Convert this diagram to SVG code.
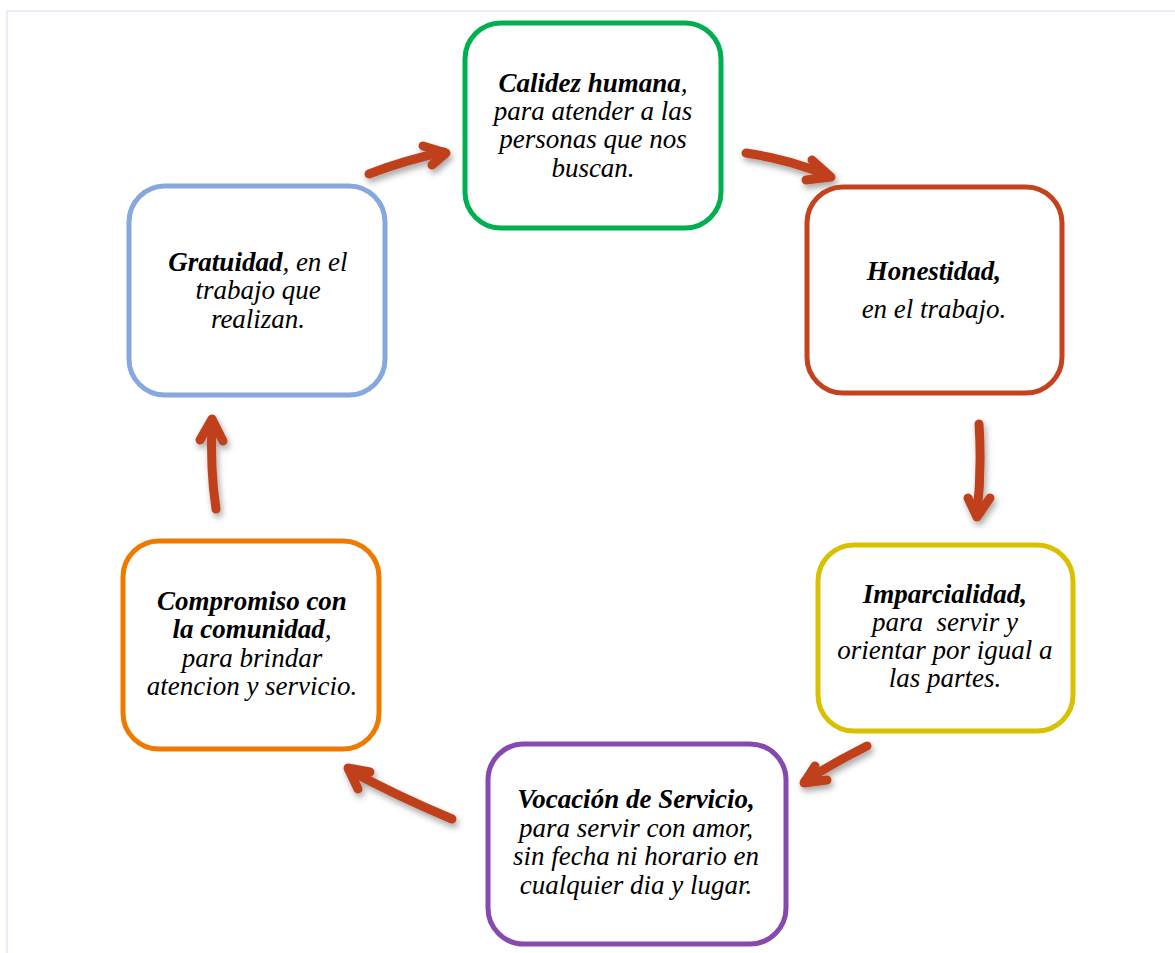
<svg xmlns="http://www.w3.org/2000/svg" width="1175" height="953" viewBox="0 0 1175 953">
<defs>
<style>
.box{fill:#fff;stroke-width:5}
.t{font-family:"Liberation Serif","Times New Roman",serif;font-size:27px;font-style:italic;fill:#000;text-anchor:middle}
.b{font-weight:bold}
.arr{fill:none;stroke:#c0401e;stroke-width:9;stroke-linecap:round;stroke-linejoin:round}
</style>
<filter id="sh" x="-30%" y="-30%" width="160%" height="160%">
<feDropShadow dx="2" dy="4" stdDeviation="3" flood-color="#000" flood-opacity="0.35"/>
</filter>
</defs>
<rect width="1175" height="953" fill="#fff"/>
<path d="M7 960 V11 H1180" fill="none" stroke="#e6edfb" stroke-width="2"/>

<g id="connectors" filter="url(#sh)">
<g id="a1"><path class="arr" d="M369 174 Q405 160 444 152"/><path class="arr" d="M423 146 L446 153 L432 165"/></g>
<g id="a2"><path class="arr" d="M746 153 Q792 160 829 176"/><path class="arr" d="M812 160 L831 177 L806 180"/></g>
<g id="a3"><path class="arr" d="M979 424 Q982 470 977 514"/><path class="arr" d="M968 498 L977 517 L990 498"/></g>
<g id="a4"><path class="arr" d="M867 746 Q835 762 805 781"/><path class="arr" d="M815 766 L804 783 L827 780"/></g>
<g id="a5"><path class="arr" d="M452 819 Q395 795 349 770"/><path class="arr" d="M370 772 L348 768 L358 789"/></g>
<g id="a6"><path class="arr" d="M216 509 Q210 470 212 421"/><path class="arr" d="M200 440 L212 419 L223 441"/></g>
</g>

<g id="calidez">
<rect class="box" x="465" y="23" width="256" height="205" rx="36" stroke="#00b050"/>
<text class="t" x="593" y="92"><tspan class="b">Calidez humana</tspan>,</text>
<text class="t" x="593" y="120">para atender a las</text>
<text class="t" x="593" y="148">personas que nos</text>
<text class="t" x="593" y="177">buscan.</text>
</g>

<g id="honestidad">
<rect class="box" x="807" y="187" width="255" height="206" rx="36" stroke="#c4421d"/>
<text class="t b" x="934" y="280">Honestidad,</text>
<text class="t" x="934" y="318">en el trabajo.</text>
</g>

<g id="imparcialidad">
<rect class="box" x="818" y="545" width="255" height="186" rx="36" stroke="#d9c000"/>
<text class="t b" x="945" y="603">Imparcialidad,</text>
<text class="t" x="945" y="631" xml:space="preserve">para  servir y</text>
<text class="t" x="945" y="659">orientar por igual a</text>
<text class="t" x="945" y="687">las partes.</text>
</g>

<g id="vocacion">
<rect class="box" x="488" y="744" width="298" height="200" rx="36" stroke="#8549b0"/>
<text class="t b" x="636" y="808">Vocación de Servicio,</text>
<text class="t" x="636" y="837">para servir con amor,</text>
<text class="t" x="636" y="865">sin fecha ni horario en</text>
<text class="t" x="636" y="894">cualquier dia y lugar.</text>
</g>

<g id="compromiso">
<rect class="box" x="123" y="541" width="256" height="208" rx="36" stroke="#ee7a00"/>
<text class="t b" x="252" y="610">Compromiso con</text>
<text class="t" x="252" y="638"><tspan class="b">la comunidad</tspan>,</text>
<text class="t" x="252" y="667">para brindar</text>
<text class="t" x="252" y="695">atencion y servicio.</text>
</g>

<g id="gratuidad">
<rect class="box" x="129" y="186" width="256" height="209" rx="36" stroke="#86a7df"/>
<text class="t" x="258" y="271"><tspan class="b">Gratuidad</tspan>, en el</text>
<text class="t" x="258" y="299">trabajo que</text>
<text class="t" x="258" y="328">realizan.</text>
</g>
</svg>
